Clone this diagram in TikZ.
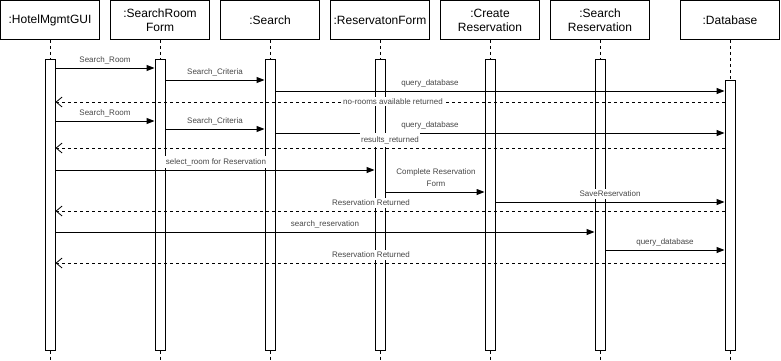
\documentclass[tikz,border=0pt]{standalone}
\usepackage{fontspec}
\setmainfont{Liberation Sans}
\usetikzlibrary{arrows.meta}
\begin{document}
\begin{tikzpicture}[x=1pt,y=-1pt,
  head/.style={draw=black, line width=1pt, minimum width=99pt, minimum height=39pt,
    inner sep=0pt, align=center, font=\fontsize{12}{14}\selectfont},
  bar/.style={draw=black, fill=white, line width=1pt, minimum width=10pt, inner sep=0pt},
  life/.style={line width=1pt, dash pattern=on 3pt off 3pt},
  call/.style={line width=1pt, -{Triangle[length=8pt,width=6pt]}},
  reply/.style={line width=1pt, dash pattern=on 3pt off 3pt,
    -{Straight Barb[length=6pt,width=10pt,line width=0.8pt]}},
  lbl/.style={fill=white, inner xsep=1pt, inner ysep=2pt, text=black!72,
    font=\fontsize{8}{12}\selectfont, align=center}]

\useasboundingbox (0,0) rectangle (781,361);

% participant headers
\node[head] (h1) at (50,20)  {:HotelMgmtGUI};
\node[head] (h2) at (160,20) {:SearchRoom\\Form};
\node[head] (h3) at (270,20) {:Search};
\node[head] (h4) at (380,20) {:ReservatonForm};
\node[head] (h5) at (490,20) {:Create\\Reservation};
\node[head] (h6) at (600,20) {:Search\\Reservation};
\node[head] (h7) at (730,20) {:Database};

% lifeline ends
\coordinate (e1) at (50,361);
\coordinate (e2) at (160,361);
\coordinate (e3) at (270,361);
\coordinate (e4) at (380,361);
\coordinate (e5) at (490,361);
\coordinate (e6) at (600,361);
\coordinate (e7) at (730,361);

% activation bars
\node[bar, minimum height=290pt] (a1) at (50,205) {};
\node[bar, minimum height=290pt] (a2) at (160,205) {};
\node[bar, minimum height=290pt] (a3) at (270,205) {};
\node[bar, minimum height=290pt] (a4) at (380,205) {};
\node[bar, minimum height=290pt] (a5) at (490,205) {};
\node[bar, minimum height=290pt] (a6) at (600,205) {};
\node[bar, minimum height=270pt] (a7) at (730,215) {};

% dashed lifelines
\foreach \i in {1,...,7} {
  \draw[life] (h\i.south) -- (a\i.north);
  \draw[life] (a\i.south) -- (e\i);
}

% first search: no rooms
\draw[call] (a1.east |- 0,68) -- (a2.west |- 0,68);
\node[lbl] (m1) at (105,60) {Search\_Room};
\draw[call] (a2.east |- 0,80) -- (a3.west |- 0,80);
\node[lbl] (m2) at (215,72) {Search\_Criteria};
\draw[call] (a3.east |- 0,91) -- (a7.west |- 0,91);
\node[lbl] (m3) at (430,83) {query\_database};
\draw[reply] (a7.west |- 0,102) -- (a1.east |- 0,102);
\node[lbl] (m4) at (393,101.5) {no-rooms available returned};

% second search: results
\draw[call] (a1.east |- 0,121) -- (a2.west |- 0,121);
\node[lbl] (m5) at (105,113) {Search\_Room};
\draw[call] (a2.east |- 0,129) -- (a3.west |- 0,129);
\node[lbl] (m6) at (215,121) {Search\_Criteria};
\draw[call] (a3.east |- 0,133) -- (a7.west |- 0,133);
\node[lbl] (m7) at (430,125) {query\_database};
\draw[reply] (a7.west |- 0,148) -- (a1.east |- 0,148);
\node[lbl, inner ysep=3.5pt] (m8) at (390,140) {results\_returned};

% reservation
\draw[call] (a1.east |- 0,170) -- (a4.west |- 0,170);
\node[lbl] (m9) at (216,162) {select\_room for Reservation};
\draw[call] (a4.east |- 0,192) -- (a5.west |- 0,192);
\node[lbl] (m10) at (436,178) {Complete Reservation\\Form};
\draw[call] (a5.east |- 0,202) -- (a7.west |- 0,202);
\node[lbl] (m11) at (610,194) {SaveReservation};
\draw[reply] (a7.west |- 0,211) -- (a1.east |- 0,211);
\node[lbl] (m12) at (371,203) {Reservation Returned};

% reservation lookup
\draw[call] (a1.east |- 0,232) -- (a6.west |- 0,232);
\node[lbl] (m13) at (325,224) {search\_reservation};
\draw[call] (a6.east |- 0,250) -- (a7.west |- 0,250);
\node[lbl] (m14) at (665,242) {query\_database};
\draw[reply] (a7.west |- 0,263) -- (a1.east |- 0,263);
\node[lbl] (m15) at (371,255) {Reservation Returned};
\end{tikzpicture}
\end{document}
